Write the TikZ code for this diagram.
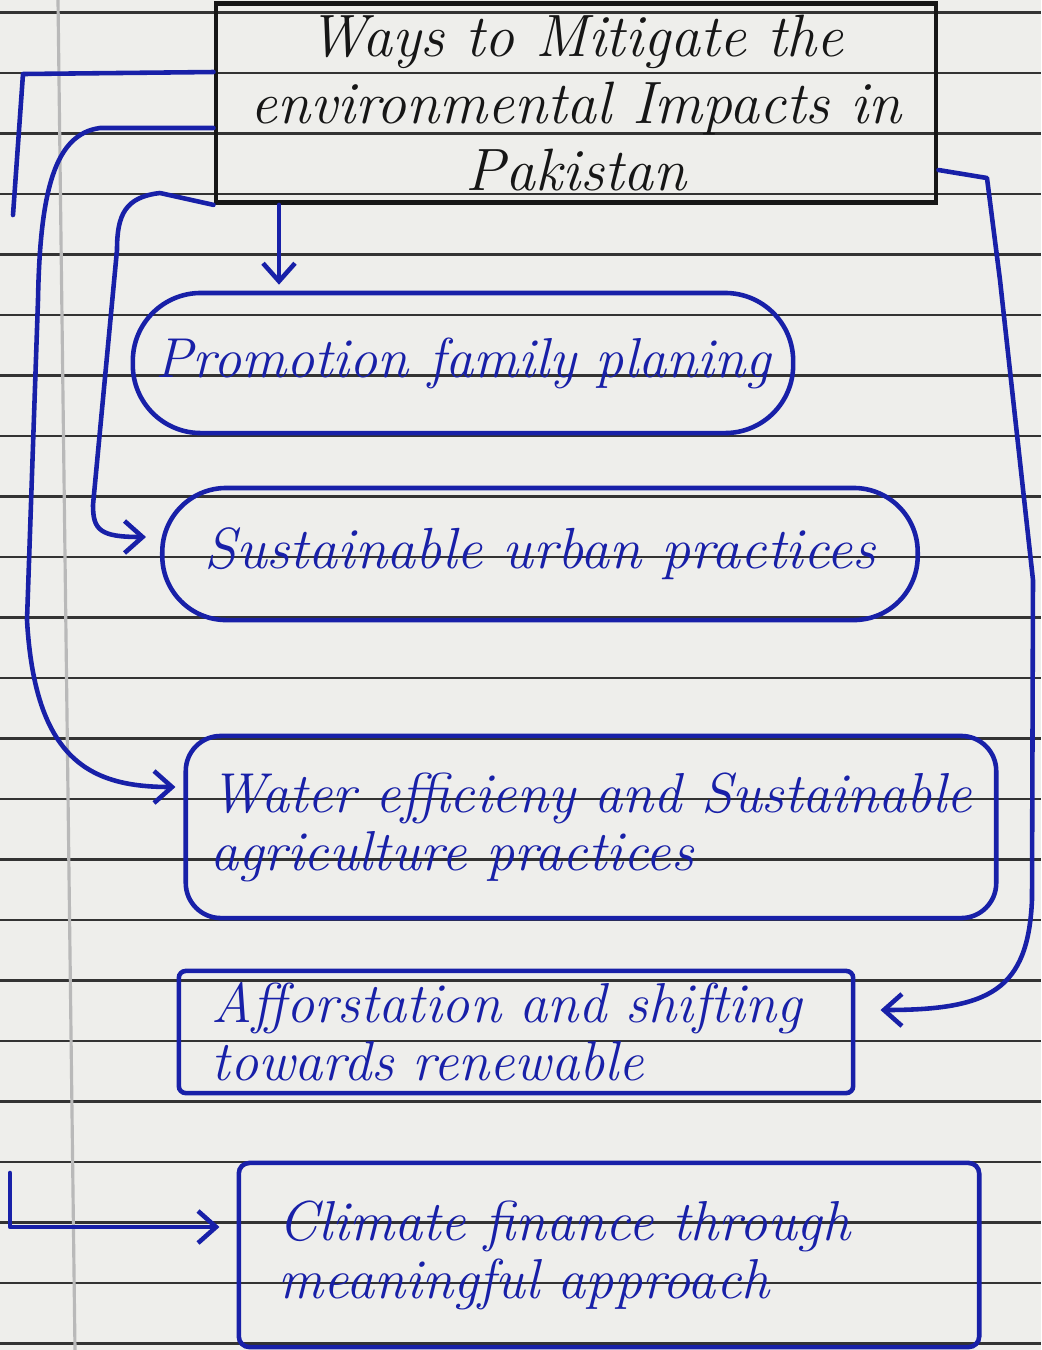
\documentclass[tikz,border=0pt]{standalone}
\usepackage{tikz}
\usetikzlibrary{arrows.meta}
\definecolor{ink}{RGB}{24,32,168}
\definecolor{pen}{RGB}{22,22,22}
\definecolor{paper}{RGB}{238,238,235}
\begin{document}
\begin{tikzpicture}[x=0.01cm,y=-0.01cm,
		>={Straight Barb[length=1.8mm,width=3.2mm]},
		rule/.style={black!80,line width=0.6pt},
		inkline/.style={ink,line width=1.3pt,line cap=round,line join=round},
		hand/.style={font=\fontsize{16}{16.5}\selectfont\itshape},
		card/.style={draw=ink,line width=1.3pt,text=ink,hand}]
			% Ruled paper
			\fill[paper] (0,0) rectangle (1041,1350);
			\useasboundingbox (0,0) rectangle (1041,1350);
			\foreach \k in {0,...,22}
				\draw[rule] (0,{12.5+60.5*\k}) -- (1041,{12.5+60.5*\k});
			\draw[gray!55,line width=0.9pt] (58,0) -- (75,1350);
			% Title box
			\node[draw=pen,line width=1.3pt,text=pen,align=center,minimum width=7.2cm,minimum height=1.8cm,
				font=\fontsize{17}{19}\selectfont\itshape] (title) at (576,103)
				{Ways to Mitigate the\\environmental Impacts in\\Pakistan};
			% The six ways
			\node[card,rounded corners=0.68cm,minimum width=6.6cm,minimum height=1.4cm] (plan) at (463,363)
				{Promotion family planing};
			\node[card,rounded corners=0.64cm,minimum width=7.55cm,minimum height=1.32cm,font=\fontsize{16.5}{17}\selectfont\itshape] (urban) at (540,554)
				{Sustainable urban practices};
			\node[card,rounded corners=0.35cm,minimum width=8.1cm,minimum height=1.82cm,align=left] (water) at (591,827)
				{Water efficieny and Sustainable\\agriculture practices};
			\node[card,rounded corners=2pt,minimum width=6.74cm,minimum height=1.21cm,align=left,text width=6.08cm] (forest) at (516,1032)
				{Afforstation and shifting\\towards renewable};
			\node[card,rounded corners=3pt,minimum width=7.4cm,minimum height=1.84cm,align=left,text width=6.6cm] (finance) at (609,1255)
				{Climate finance through\\meaningful approach};
			% Free ends of the left lines
			\coordinate (topend) at (13,215);
			\coordinate (lowend) at (10,1173);
			% Connectors
			\draw[inkline] (title.west|-0,72) -- (23,74) -- (topend);
			\draw[inkline,->,shorten >=0.06cm] (title.south -| 279,0) -- (plan.north -| 279,0);
			\draw[inkline,->,shorten >=0.08cm] (title.west|-0,128) -- (100,128)
				.. controls (55,134) and (40,190) .. (38,300) -- (27,620)
				.. controls (35,760) and (90,787) .. (water.west|-0,787);
			\draw[inkline,->,shorten >=0.14cm] (title.south west) -- (160,193)
				.. controls (125,197) and (117,215) .. (117,250) -- (93,505)
				.. controls (93,530) and (100,537) .. (urban.west|-0,537);
			\draw[inkline,->,shorten >=0.25cm] (title.east|-0,170) -- (987,178) -- (1000,280) -- (1033,580)
				-- (1032,900) .. controls (1028,990) and (990,1010) .. (forest.east|-0,1010);
			\draw[inkline,->,shorten >=0.17cm] (lowend) -- (10,1227) -- (finance.west|-0,1227);
	\end{tikzpicture}
\end{document}
